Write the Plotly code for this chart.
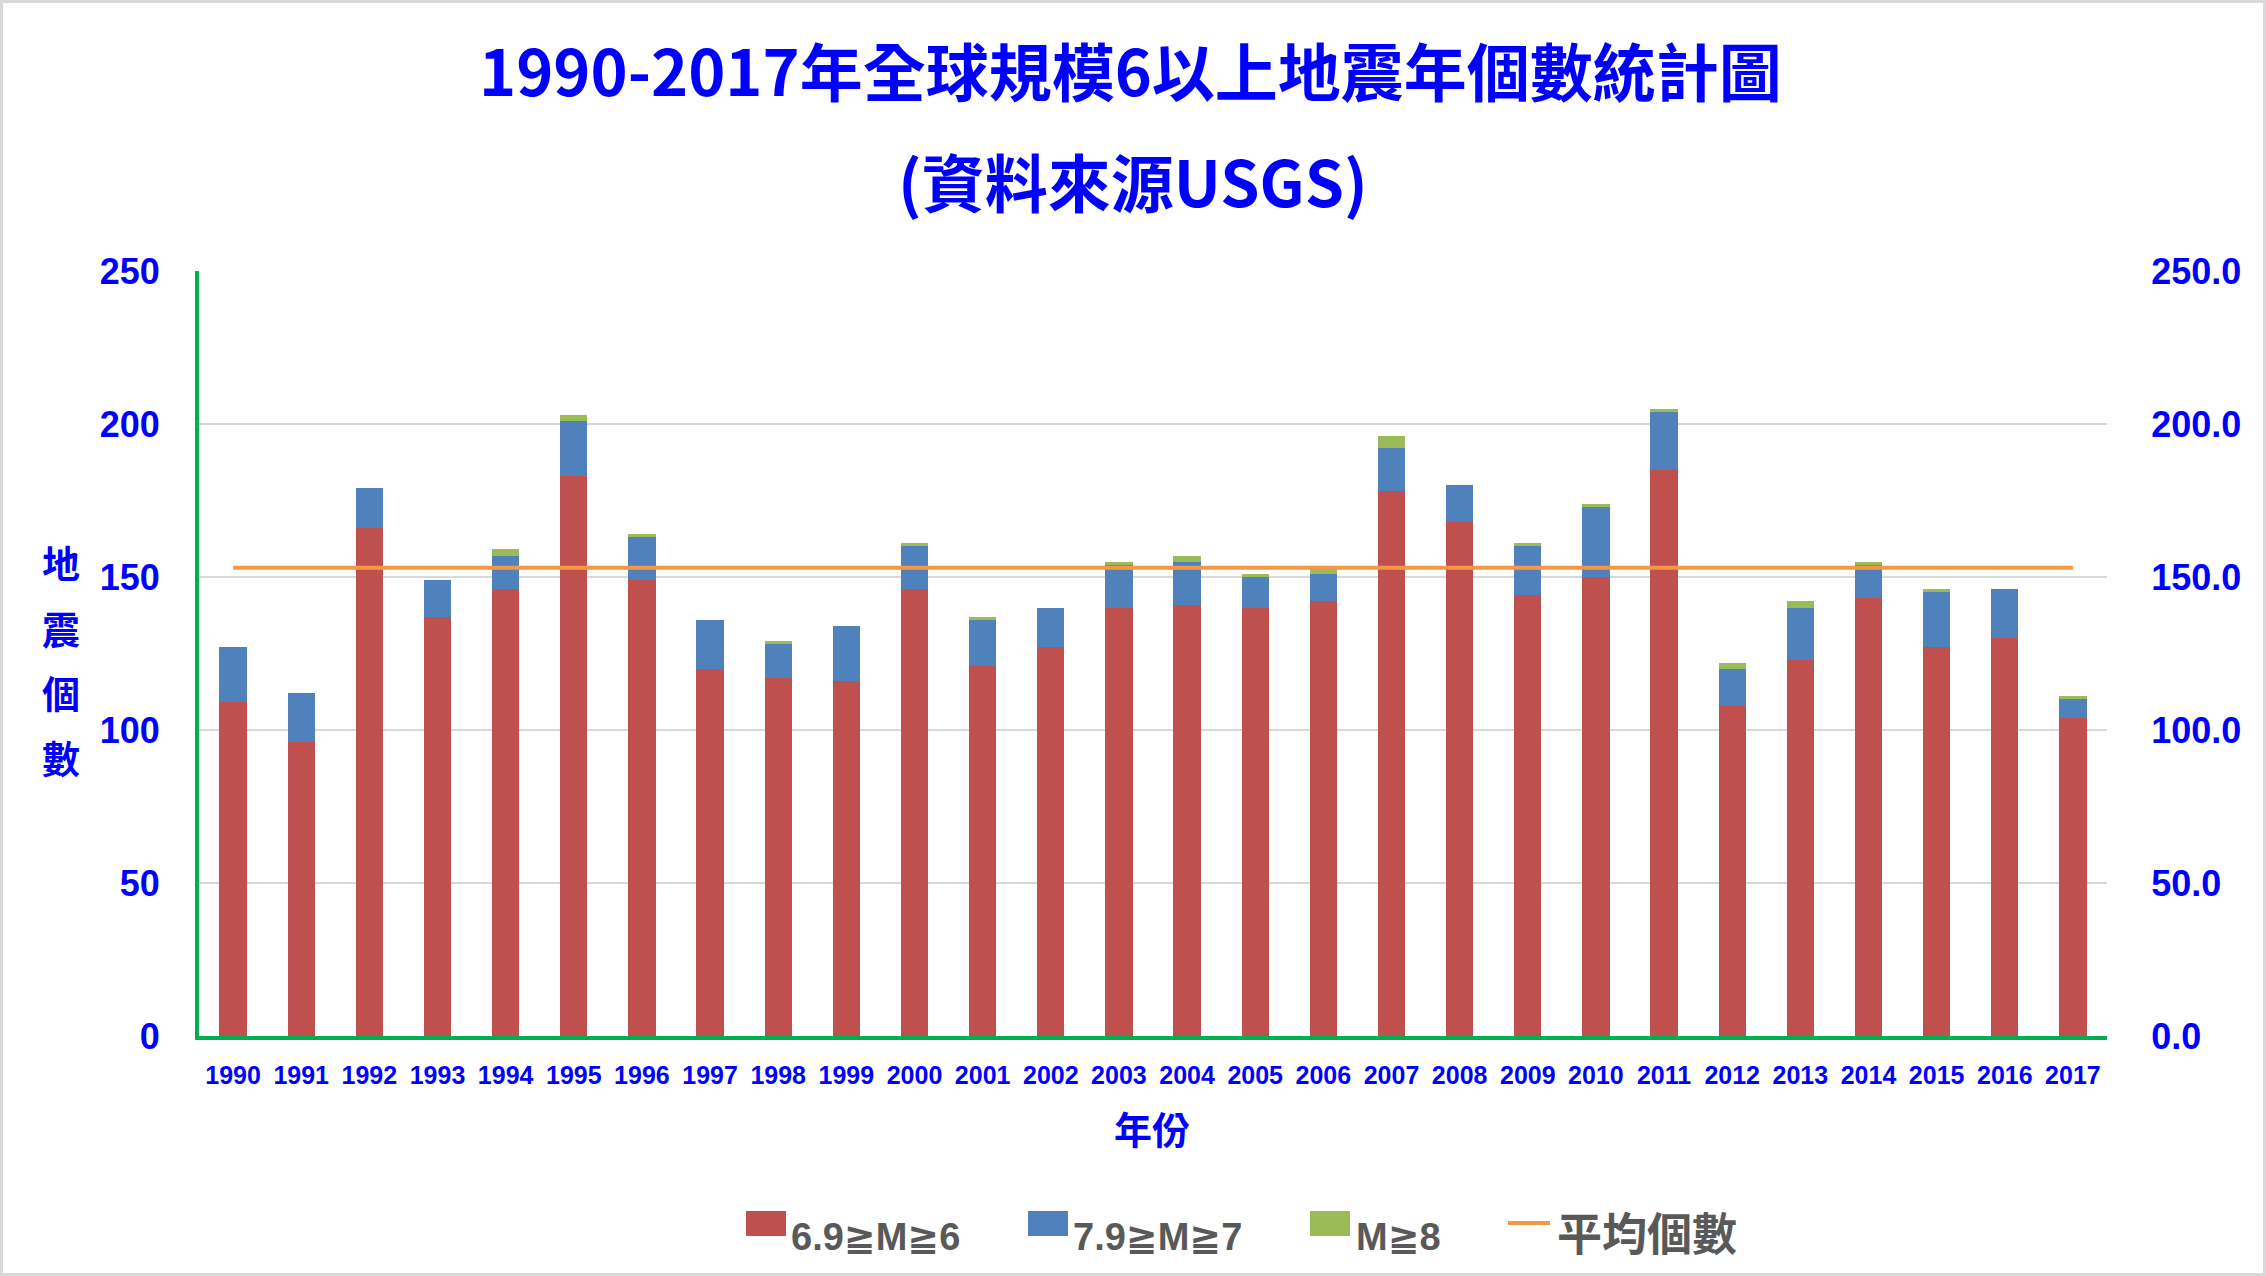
import plotly.graph_objects as go

# ---------------- data ----------------
years = [str(y) for y in range(1990, 2018)]
m6_69 = [109, 96, 166, 137, 146, 183, 149, 120, 117, 116, 146, 121, 127, 140,
         141, 140, 142, 178, 168, 144, 150, 185, 108, 123, 143, 127, 130, 104]
m7_79 = [18, 16, 13, 12, 11, 18, 14, 16, 11, 18, 14, 15, 13, 14,
         14, 10, 9, 14, 12, 16, 23, 19, 12, 17, 11, 18, 16, 6]
m8_up = [0, 0, 0, 0, 2, 2, 1, 0, 1, 0, 1, 1, 0, 1,
         2, 1, 2, 4, 0, 1, 1, 1, 2, 2, 1, 1, 0, 1]
average_count = 153.0
series_names = ["6.9≧M≧6", "7.9≧M≧7", "M≧8", "平均個數"]
y_ticks = [0, 50, 100, 150, 200, 250]

# ---------------- style ----------------
C_RED, C_BLUE, C_GREEN, C_ORANGE = "#C0504D", "#4F81BD", "#9BBB59", "#F79646"
AX_GREEN = "#00B050"
BLUE_TXT = "#0000FF"
GRID = "#D9D9D9"
LEG_TXT = "#595959"
CJK = "Noto Sans CJK TC"
LAT = "Liberation Sans"

W, H = 2266, 1276
L, R, T, B = 199, 2107, 271, 1036
PW, PH = R - L, B - T


def px(x):
    return (x - L) / PW


def py(y):
    return (B - y) / PH


fig = go.Figure()
fig.add_trace(go.Bar(x=years, y=m6_69, name=series_names[0], marker_color=C_RED,
                     marker_line_width=0, showlegend=False))
fig.add_trace(go.Bar(x=years, y=m7_79, name=series_names[1], marker_color=C_BLUE,
                     marker_line_width=0, showlegend=False))
fig.add_trace(go.Bar(x=years, y=m8_up, name=series_names[2], marker_color=C_GREEN,
                     marker_line_width=0, showlegend=False))
fig.add_trace(go.Scatter(x=years, y=[average_count for _ in years], name=series_names[3],
                         mode="lines", line=dict(color=C_ORANGE, width=4),
                         yaxis="y2", showlegend=False))

tickfont = dict(family=LAT, size=36, color=BLUE_TXT, weight="bold")

fig.update_layout(
    width=W, height=H, autosize=False,
    margin=dict(l=L, r=W - R, t=T, b=H - B, pad=0),
    paper_bgcolor="white", plot_bgcolor="white",
    barmode="stack", bargap=0.6,
    xaxis=dict(type="category", showline=True, linecolor=AX_GREEN, linewidth=4,
               showgrid=False, ticks="outside", ticklen=14, tickcolor="rgba(0,0,0,0)",
               tickfont=dict(family=LAT, size=25, color=BLUE_TXT, weight="bold"),
               tickangle=0),
    yaxis=dict(range=[0, 250], tickvals=y_ticks, showline=True, linecolor=AX_GREEN,
               linewidth=4, showgrid=True, gridcolor=GRID, gridwidth=1.5,
               zeroline=False, ticks="outside", ticklen=28,
               tickcolor="rgba(0,0,0,0)", tickfont=tickfont),
    yaxis2=dict(range=[0, 250], tickvals=y_ticks, tickformat=".1f", overlaying="y",
                side="right", showline=False, showgrid=False, zeroline=False,
                ticks="outside", ticklen=36, tickcolor="rgba(0,0,0,0)",
                tickfont=tickfont),
)

ann = []
# titles
ann.append(dict(text="1990-2017年全球規模6以上地震年個數統計圖", x=px(1130), y=py(68),
                xref="paper", yref="paper", xanchor="center", yanchor="middle",
                showarrow=False, font=dict(family=CJK, size=63, color=BLUE_TXT, weight="bold")))
ann.append(dict(text="(資料來源USGS)", x=px(1133), y=py(179),
                xref="paper", yref="paper", xanchor="center", yanchor="middle",
                showarrow=False, font=dict(family=CJK, size=63, color=BLUE_TXT, weight="bold")))
# x axis title
ann.append(dict(text="年份", x=px(1152), y=py(1127), xref="paper", yref="paper",
                xanchor="center", yanchor="middle", showarrow=False,
                font=dict(family=CJK, size=38, color=BLUE_TXT, weight="bold")))
# y axis title (stacked characters)
for ch, yy in zip("地震個數", [561, 627, 691, 756]):
    ann.append(dict(text=ch, x=px(61), y=py(yy), xref="paper", yref="paper",
                    xanchor="center", yanchor="middle", showarrow=False,
                    font=dict(family=CJK, size=38, color=BLUE_TXT, weight="bold")))

shapes = []
# custom legend
leg_items = [(C_RED, 746, 789, series_names[0]),
             (C_BLUE, 1028, 1071, series_names[1]),
             (C_GREEN, 1310, 1354, series_names[2])]
for col, x0, tx, name in leg_items:
    shapes.append(dict(type="rect", xref="paper", yref="paper",
                       x0=px(x0), x1=px(x0 + 40), y0=py(1236), y1=py(1211),
                       fillcolor=col, line=dict(width=0)))
    ann.append(dict(text=name, x=px(tx), y=py(1237), xref="paper", yref="paper",
                    xanchor="left", yanchor="middle", showarrow=False,
                    font=dict(family=LAT + ", DejaVu Sans, " + CJK, size=38,
                              color=LEG_TXT, weight="bold")))
shapes.append(dict(type="line", xref="paper", yref="paper",
                   x0=px(1508), x1=px(1550), y0=py(1223), y1=py(1223),
                   line=dict(color=C_ORANGE, width=4)))
ann.append(dict(text=series_names[3], x=px(1555), y=py(1231), xref="paper", yref="paper",
                xanchor="left", yanchor="middle", showarrow=False,
                font=dict(family=CJK, size=45, color=LEG_TXT, weight="bold")))
# outer border
shapes.append(dict(type="rect", xref="paper", yref="paper",
                   x0=px(1.5), x1=px(W - 1.5), y0=py(H - 1.5), y1=py(1.5),
                   line=dict(color=GRID, width=3), fillcolor="rgba(0,0,0,0)", layer="below"))

fig.update_layout(annotations=ann, shapes=shapes)
fig.write_html("out.html",
               config={"displayModeBar": False},
               post_script="document.body.style.margin='0px';"
                           "document.body.style.overflow='hidden';")
